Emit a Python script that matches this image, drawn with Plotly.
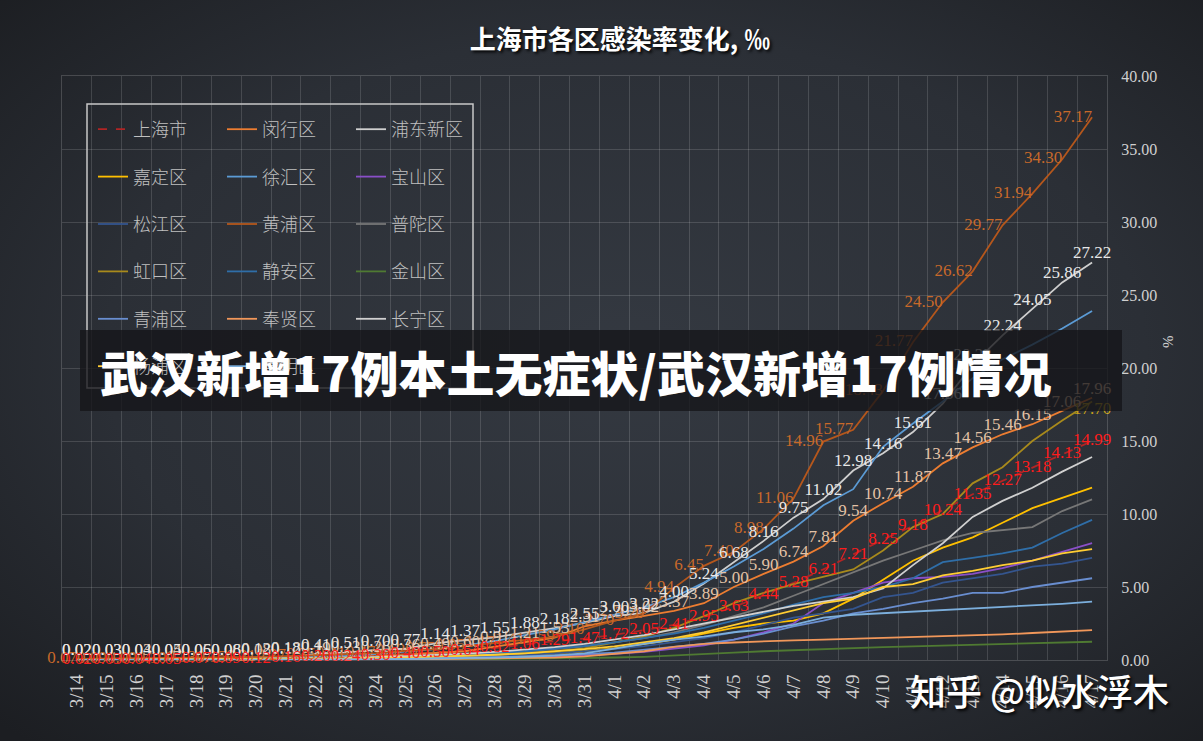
import base64
import plotly.graph_objects as go

dates = ["3/14","3/15","3/16","3/17","3/18","3/19","3/20","3/21","3/22","3/23","3/24","3/25",
         "3/26","3/27","3/28","3/29","3/30","3/31","4/1","4/2","4/3","4/4","4/5","4/6","4/7",
         "4/8","4/9","4/10","4/11","4/12","4/13","4/14","4/15","4/16","4/17"]

shanghai = [0.02,0.03,0.04,0.05,0.07,0.09,0.12,0.16,0.20,0.24,0.30,0.40,0.50,0.64,0.82,1.06,1.29,1.47,
            1.72,2.05,2.41,2.95,3.63,4.44,5.28,6.21,7.21,8.25,9.18,10.24,11.35,12.27,13.18,14.13,14.99]
minhang = [0.02,0.03,0.03,0.04,0.05,0.06,0.08,0.12,0.19,0.23,0.26,0.36,0.49,0.60,0.91,1.21,1.53,2.31,
           2.70,3.02,3.37,3.89,5.00,5.90,6.74,7.81,9.54,10.74,11.87,13.47,14.56,15.46,16.15,17.06,17.96]
pudong = [0.02,0.03,0.04,0.05,0.06,0.08,0.12,0.18,0.41,0.51,0.70,0.77,1.14,1.37,1.55,1.88,2.18,2.55,
          3.00,3.22,4.00,5.24,6.68,8.16,9.75,11.02,12.98,14.16,15.61,17.56,20.23,22.24,24.05,25.86,27.22]
jiading = [0.00,0.01,0.01,0.02,0.02,0.03,0.04,0.05,0.06,0.08,0.10,0.13,0.17,0.22,0.28,0.36,0.46,0.60,
           0.80,1.10,1.40,1.80,2.20,2.50,2.70,3.20,4.20,5.50,6.80,7.70,8.40,9.40,10.40,11.10,11.80]
xuhui = [0.01,0.02,0.03,0.04,0.05,0.07,0.10,0.14,0.20,0.28,0.40,0.55,0.75,1.00,1.30,1.70,2.10,2.60,
         3.10,3.60,4.30,5.30,6.40,7.60,9.00,10.60,11.70,14.60,16.20,17.70,19.30,20.60,21.60,22.70,23.90]
baoshan = [0.00,0.00,0.01,0.01,0.01,0.02,0.02,0.03,0.04,0.05,0.06,0.08,0.10,0.13,0.16,0.20,0.25,0.32,
           0.42,0.55,0.75,1.00,1.40,1.90,2.50,3.90,4.60,5.30,5.60,5.70,5.90,6.30,6.80,7.40,8.00]
songjiang = [0.00,0.00,0.01,0.01,0.02,0.02,0.03,0.04,0.05,0.07,0.09,0.12,0.16,0.21,0.27,0.35,0.45,0.58,
             0.75,0.95,1.20,1.50,1.90,2.40,2.90,3.20,3.50,4.30,4.60,5.30,5.60,5.90,6.40,6.60,7.00]
huangpu = [0.07,0.09,0.09,0.10,0.13,0.15,0.21,0.27,0.35,0.41,0.47,0.62,0.75,0.95,1.17,1.41,1.59,2.10,
           2.70,3.20,4.94,6.45,7.40,8.98,11.06,14.96,15.77,18.43,21.77,24.50,26.62,29.77,31.94,34.30,37.17]
putuo = [0.01,0.01,0.02,0.02,0.03,0.04,0.05,0.07,0.09,0.12,0.16,0.21,0.28,0.36,0.46,0.58,0.74,0.94,
         1.20,1.50,1.90,2.40,3.00,3.60,4.40,5.20,6.00,6.80,7.50,8.20,8.70,8.90,9.10,10.20,11.00]
hongkou = [0.00,0.01,0.01,0.02,0.02,0.03,0.04,0.05,0.07,0.09,0.12,0.16,0.21,0.28,0.36,0.46,0.60,0.80,
           1.20,1.60,2.20,3.00,3.90,4.60,5.20,5.70,6.20,7.50,9.10,10.00,12.10,13.20,15.00,16.40,17.70]
jingan = [0.01,0.01,0.02,0.03,0.04,0.05,0.06,0.08,0.10,0.13,0.17,0.22,0.29,0.37,0.47,0.60,0.76,0.96,
          1.20,1.50,1.80,2.20,2.70,3.20,3.80,4.30,4.60,5.00,5.60,6.70,7.00,7.30,7.70,8.70,9.60]
jinshan = [0.00,0.00,0.00,0.00,0.00,0.00,0.01,0.01,0.01,0.02,0.02,0.03,0.04,0.05,0.06,0.08,0.10,0.13,
           0.17,0.22,0.30,0.40,0.50,0.60,0.68,0.75,0.82,0.88,0.94,1.00,1.05,1.10,1.15,1.20,1.25]
qingpu = [0.00,0.00,0.01,0.01,0.01,0.02,0.02,0.03,0.04,0.05,0.07,0.09,0.12,0.15,0.19,0.24,0.30,0.40,
          0.50,0.70,0.90,1.10,1.40,1.80,2.30,2.70,3.20,3.50,3.90,4.20,4.60,4.60,5.00,5.30,5.60]
fengxian = [0.00,0.00,0.00,0.00,0.01,0.01,0.01,0.02,0.02,0.03,0.04,0.05,0.06,0.08,0.10,0.13,0.17,0.25,
            0.40,0.60,0.90,1.10,1.20,1.30,1.35,1.40,1.45,1.50,1.55,1.60,1.65,1.75,1.85,1.95,2.05]
changning = [0.01,0.01,0.02,0.03,0.04,0.05,0.07,0.09,0.12,0.16,0.20,0.26,0.34,0.44,0.56,0.70,0.88,1.10,
             1.40,1.70,2.10,2.50,2.90,3.30,3.70,4.00,4.30,4.90,6.50,8.00,9.80,10.90,11.80,12.90,13.90]
yangpu = [0.00,0.01,0.01,0.02,0.02,0.03,0.04,0.05,0.07,0.09,0.12,0.16,0.21,0.28,0.36,0.46,0.58,0.74,
          0.94,1.20,1.50,1.90,2.40,2.90,3.40,3.90,4.20,5.00,5.20,5.80,6.10,6.50,6.80,7.30,7.60]
chongming = [0.00,0.00,0.00,0.01,0.01,0.01,0.02,0.02,0.03,0.04,0.05,0.07,0.09,0.12,0.16,0.22,0.30,0.45,
             0.80,1.10,1.40,1.60,1.90,2.10,2.40,2.90,3.10,3.20,3.30,3.40,3.50,3.60,3.70,3.85,4.00]

# name, values, color, dash, legend column
series = [
    ("上海市", shanghai, "#b02525", "dash", "legend"),
    ("闵行区", minhang, "#ED7D31", "solid", "legend2"),
    ("浦东新区", pudong, "#cfcfcf", "solid", "legend3"),
    ("嘉定区", jiading, "#FFC000", "solid", "legend"),
    ("徐汇区", xuhui, "#5B9BD5", "solid", "legend2"),
    ("宝山区", baoshan, "#8a4fc8", "solid", "legend3"),
    ("松江区", songjiang, "#34558f", "solid", "legend"),
    ("黄浦区", huangpu, "#b5571c", "solid", "legend2"),
    ("普陀区", putuo, "#777777", "solid", "legend3"),
    ("虹口区", hongkou, "#a88a1c", "solid", "legend"),
    ("静安区", jingan, "#2f6ea8", "solid", "legend2"),
    ("金山区", jinshan, "#4f7a32", "solid", "legend3"),
    ("青浦区", qingpu, "#698ED0", "solid", "legend"),
    ("奉贤区", fengxian, "#F1975A", "solid", "legend2"),
    ("长宁区", changning, "#d0d0d0", "solid", "legend3"),
    ("杨浦区", yangpu, "#FFCD33", "solid", "legend"),
    ("崇明区", chongming, "#7CAFDD", "solid", "legend2"),
]

fig = go.Figure()
for name, vals, color, dash, leg in series:
    fig.add_trace(go.Scatter(
        x=dates, y=vals, name=name, mode="lines",
        line=dict(color=color, width=1.8, dash=dash),
        legend=leg, legendgroup=name, hoverinfo="skip"))

# data labels (drawn above all lines)
label_specs = [
    (huangpu, "#c8692a", "middle left", None),
    (minhang, "#e3c2a6", "top center", None),
    (pudong, "#e8e8e8", "top center", None),
    (hongkou, "#c9a21a", "bottom center", "last"),
    (shanghai, "#ff1c1c", "middle center", None),
]
for vals, color, pos, which in label_specs:
    if which == "last":
        txt = [""] * (len(vals) - 1) + [f"{vals[-1]:.2f}"]
    else:
        txt = [f"{v:.2f}" for v in vals]
    fig.add_trace(go.Scatter(
        x=dates, y=vals, mode="text", text=txt, textposition=pos, cliponaxis=False,
        textfont=dict(family="Liberation Serif", size=17, color=color),
        showlegend=False, hoverinfo="skip"))

# layout geometry (pixels)
W, H = 1203, 741
L, R, T, B = 62, 96, 76, 81
pw, ph = W - L - R, H - T - B

def px(x):
    return (x - L) / pw

def py(y):
    return (H - B - y) / ph

svg = ('<svg xmlns="http://www.w3.org/2000/svg" width="1203" height="741">'
       '<defs><radialGradient id="g" cx="52%" cy="48%" r="72%">'
       '<stop offset="0" stop-color="#343941"/><stop offset="0.6" stop-color="#2b2f36"/>'
       '<stop offset="1" stop-color="#1c1e22"/></radialGradient></defs>'
       '<rect width="1203" height="741" fill="url(#g)"/></svg>')
src = "data:image/svg+xml;base64," + base64.b64encode(svg.encode()).decode()

legend_common = dict(
    bgcolor="rgba(0,0,0,0)", borderwidth=0,
    font=dict(family="Noto Sans CJK SC", size=18, color="#c0c0c0", weight=300),
    tracegroupgap=21, orientation="v", xanchor="left", yanchor="top", itemclick=False,
)
ly = py(111)
fig.update_layout(
    width=W, height=H,
    margin=dict(l=L, r=R, t=T, b=B),
    paper_bgcolor="#25292f", plot_bgcolor="rgba(0,0,0,0)",
    images=[dict(source=src, xref="paper", yref="paper", x=px(0), y=py(0),
                 sizex=W / pw, sizey=H / ph, xanchor="left", yanchor="top",
                 sizing="stretch", layer="below")],
    title=dict(text="上海市各区感染率变化, ‰", x=620 / W, xref="container", xanchor="center",
               y=1 - 40 / H, yref="container", yanchor="middle",
               font=dict(family="Noto Sans CJK SC", size=26, color="#ffffff", weight=700,
                         shadow="2px 2px 3px rgba(0,0,0,0.9)")),
    xaxis=dict(type="category", tickangle=-90, tickson="boundaries", showgrid=True,
               gridcolor="rgba(255,255,255,0.14)", gridwidth=1, ticks="",
               showline=True, mirror=True, linecolor="rgba(255,255,255,0.17)",
               ticklabelstandoff=6,
               tickfont=dict(family="Liberation Serif", size=19, color="#d0d0d0"),
               range=[-0.5, len(dates) - 0.5], zeroline=False),
    yaxis=dict(side="right", range=[0, 40], dtick=5, tickformat=".2f", showgrid=True,
               gridcolor="rgba(255,255,255,0.14)", ticks="", zeroline=False,
               showline=True, mirror=True, linecolor="rgba(255,255,255,0.17)",
               ticklabelstandoff=10,
               tickfont=dict(family="Liberation Serif", size=16, color="#d0d0d0")),
    legend=dict(x=px(93), y=ly, **legend_common),
    legend2=dict(x=px(222), y=ly, **legend_common),
    legend3=dict(x=px(351), y=ly, **legend_common),
    showlegend=True,
    shapes=[
        dict(type="rect", xref="paper", yref="paper", x0=px(87), x1=px(473), y0=py(388), y1=py(104),
             line=dict(color="#c8c8c8", width=1.5), fillcolor="rgba(0,0,0,0)", layer="above"),
        dict(type="rect", xref="paper", yref="paper", x0=px(80), x1=px(1122), y0=py(411), y1=py(330),
             line=dict(width=0), fillcolor="rgba(20,21,24,0.78)", layer="above"),
    ],
    annotations=[
        dict(text="%", xref="paper", yref="paper", x=px(1168), y=py(342), textangle=-90,
             xanchor="center", yanchor="middle", showarrow=False,
             font=dict(family="Liberation Serif", size=15, color="#d0d0d0")),
        dict(text="武汉新增17例本土无症状/武汉新增17例情况", xref="paper", yref="paper",
             x=px(98), y=py(371), xanchor="left", yanchor="middle", showarrow=False,
             font=dict(family="Noto Sans CJK SC", size=48, color="#ffffff", weight=900)),
        dict(text="知乎 @似水浮木", xref="paper", yref="paper",
             x=px(1039), y=py(690), xanchor="center", yanchor="middle", showarrow=False,
             font=dict(family="Noto Sans CJK SC", size=36, color="#ffffff", weight=500,
                       shadow="2px 2px 3px rgba(0,0,0,0.9)")),
    ],
)

fig.write_html("out.html", config={"displayModeBar": False},
               post_script="document.body.style.margin='0';document.body.style.overflow='hidden';")
